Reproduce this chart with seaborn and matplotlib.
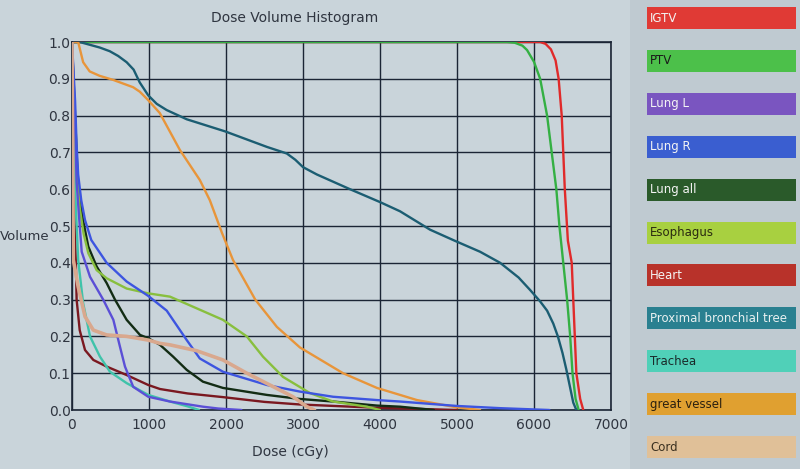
import pandas as pd
import seaborn as sns
import matplotlib.pyplot as plt
from matplotlib.patches import Rectangle

# DVH 데이터 (사진에서 읽은 값)
structures = ['IGTV', 'PTV', 'Lung L', 'Lung R', 'Lung all', 'Esophagus', 'Heart',
              'Proximal bronchial tree', 'Trachea', 'great vessel', 'Cord']

igtv_dose = [0, 6080, 6150, 6220, 6280, 6320, 6360, 6380, 6400, 6440, 6490, 6510, 6530, 6550, 6600, 6640]
igtv_vol = [1.0, 1.0, 0.995, 0.98, 0.95, 0.9, 0.8, 0.7, 0.6, 0.46, 0.4, 0.3, 0.2, 0.1, 0.03, 0.0]

ptv_dose = [0, 5650, 5750, 5850, 5910, 6000, 6080, 6170, 6230, 6290, 6330, 6380, 6430, 6470, 6500, 6540, 6580]
ptv_vol = [1.0, 1.0, 0.998, 0.99, 0.978, 0.946, 0.9, 0.8, 0.7, 0.6, 0.5, 0.4, 0.3, 0.2, 0.1, 0.03, 0.0]

lungl_dose = [0, 40, 60, 90, 126, 234, 405, 537, 623, 688, 795, 990, 1273, 1700, 1900, 2200]
lungl_vol = [1.0, 0.77, 0.62, 0.53, 0.43, 0.362, 0.30, 0.245, 0.172, 0.118, 0.063, 0.036, 0.023, 0.009, 0.004, 0.0]

lungr_dose = [0, 40, 60, 80, 120, 169, 250, 450, 710, 990, 1230, 1490, 1660, 1960, 2530, 2960, 3390, 3960,
              4260, 5000, 5560, 6200]
lungr_vol = [1.0, 0.84, 0.72, 0.64, 0.57, 0.516, 0.462, 0.40, 0.349, 0.31, 0.27, 0.19, 0.14, 0.104, 0.068,
             0.05, 0.036, 0.027, 0.023, 0.011, 0.005, 0.0]

lungall_dose = [0, 40, 80, 143, 212, 320, 450, 558, 710, 883, 990, 1143, 1313, 1490, 1700, 1960, 2530, 2960,
                3390, 3960, 4260, 4700]
lungall_vol = [1.0, 0.8, 0.6, 0.516, 0.444, 0.39, 0.345, 0.30, 0.245, 0.204, 0.195, 0.177, 0.145, 0.109,
               0.077, 0.06, 0.041, 0.03, 0.023, 0.012, 0.009, 0.0]

eso_dose = [0, 40, 100, 150, 212, 320, 450, 710, 990, 1273, 1360, 1960, 2270, 2480, 2740, 3090, 3390, 3830, 4000]
eso_vol = [1.0, 0.75, 0.55, 0.48, 0.426, 0.38, 0.358, 0.33, 0.317, 0.308, 0.30, 0.245, 0.2, 0.145, 0.09,
           0.046, 0.023, 0.009, 0.0]

heart_dose = [0, 20, 50, 60, 100, 169, 277, 450, 710, 990, 1143, 1500, 1960, 2500, 2960, 3960, 5000]
heart_vol = [1.0, 0.6, 0.4, 0.30, 0.217, 0.163, 0.136, 0.118, 0.095, 0.068, 0.057, 0.045, 0.035, 0.022,
             0.015, 0.006, 0.0]

pbt_dose = [0, 100, 360, 490, 600, 710, 800, 880, 990, 1100, 1230, 1490, 1990, 2530, 2790, 2900, 3000, 3180,
            3610, 4000, 4260, 4650, 4970, 5300, 5560, 5800, 5950, 6080, 6170, 6250, 6310, 6370, 6420, 6470,
            6510, 6550]
pbt_vol = [1.0, 1.0, 0.985, 0.975, 0.962, 0.945, 0.925, 0.89, 0.855, 0.832, 0.815, 0.79, 0.757, 0.715,
           0.697, 0.68, 0.66, 0.64, 0.6, 0.565, 0.54, 0.49, 0.46, 0.43, 0.40, 0.36, 0.326, 0.295, 0.27,
           0.235, 0.2, 0.155, 0.11, 0.06, 0.02, 0.0]

trachea_dose = [0, 40, 80, 145, 234, 363, 493, 710, 990, 1273, 1500, 1650]
trachea_vol = [1.0, 0.6, 0.408, 0.29, 0.2, 0.145, 0.104, 0.073, 0.041, 0.023, 0.01, 0.0]

gv_dose = [0, 80, 145, 230, 360, 535, 795, 880, 990, 1140, 1400, 1660, 1790, 1950, 2090, 2380, 2660, 2960,
           3520, 3960, 4260, 4480, 5000, 5300]
gv_vol = [1.0, 1.0, 0.945, 0.92, 0.908, 0.897, 0.877, 0.865, 0.842, 0.807, 0.707, 0.625, 0.57, 0.48, 0.408,
          0.30, 0.226, 0.17, 0.10, 0.06, 0.041, 0.027, 0.007, 0.0]

cord_dose = [0, 17, 80, 169, 277, 450, 710, 990, 1143, 1273, 1620, 1960, 2270, 2570, 2870, 3050, 3150]
cord_vol = [1.0, 0.408, 0.335, 0.254, 0.217, 0.204, 0.2, 0.19, 0.181, 0.177, 0.161, 0.136, 0.10, 0.068,
            0.036, 0.009, 0.0]

doses = [igtv_dose, ptv_dose, lungl_dose, lungr_dose, lungall_dose, eso_dose, heart_dose,
         pbt_dose, trachea_dose, gv_dose, cord_dose]
vols = [igtv_vol, ptv_vol, lungl_vol, lungr_vol, lungall_vol, eso_vol, heart_vol,
        pbt_vol, trachea_vol, gv_vol, cord_vol]

# 선 색 / 범례 박스 색
line_colors = ['#e02a2a', '#34b043', '#5b4fd6', '#3d55e0', '#122c14', '#88bf3e', '#7a1820',
               '#1b5d72', '#3fc3aa', '#e8953a', '#d9a88e']
box_colors = ['#e03a35', '#4cc04a', '#7a55c0', '#3a5ed0', '#2a5a2a', '#a8d040', '#b8322a',
              '#2a8090', '#50d0b8', '#e0a030', '#e0c098']
text_colors = ['#f4f4f4', '#1a1a1a', '#f4f4f4', '#f4f4f4', '#f4f4f4', '#2a2a10', '#f4f4f4',
               '#e8f0f0', '#1a2a2a', '#2a2010', '#3a3020']

frames = []
for name, d, v in zip(structures, doses, vols):
    frames.append(pd.DataFrame({'dose': d, 'volume': v, 'structure': name}))
df = pd.concat(frames, ignore_index=True)

sns.set_theme(style='white')
plt.rcParams['font.family'] = ['DejaVu Sans']

bg = '#c9d4da'
fig = plt.figure(figsize=(8, 4.69), dpi=100, facecolor=bg)
ax = fig.add_axes([72 / 800, 1 - 410 / 469, (611 - 72) / 800, 368 / 469])
ax.set_facecolor(bg)

# 그리기 순서: IGTV 먼저, PTV가 위에 오도록
draw_order = ['IGTV', 'PTV', 'Proximal bronchial tree', 'great vessel', 'Heart', 'Trachea',
              'Lung all', 'Esophagus', 'Lung L', 'Lung R', 'Cord']
palette = dict(zip(structures, line_colors))
for name in draw_order:
    lw = 2.6 if name == 'Cord' else 1.7
    sns.lineplot(data=df[df['structure'] == name], x='dose', y='volume', color=palette[name],
                 estimator=None, sort=False, lw=lw, ax=ax, legend=False, zorder=3)

ax.set_xlim(0, 7000)
ax.set_ylim(0, 1.0)
ax.set_xticks(range(0, 7001, 1000))
ax.set_yticks([i / 10 for i in range(11)])
ax.set_yticklabels([f'{i / 10:.1f}' for i in range(11)])
ax.grid(True, color='#1b2535', lw=1.0, zorder=1)
for s in ax.spines.values():
    s.set_color('#1b2535')
    s.set_linewidth(1.2)
ax.tick_params(axis='both', length=0, labelsize=10, colors='#2f3540')
ax.tick_params(axis='x', pad=6)
ax.tick_params(axis='y', pad=1)
ax.set_xlabel('')
ax.set_ylabel('')

fig.text(295 / 800, 1 - 18 / 469, 'Dose Volume Histogram', ha='center', va='center',
         fontsize=10, color='#2f3540')
fig.text(0, 1 - 236 / 469, 'Volume', ha='left', va='center', fontsize=9.5, color='#2f3540')
fig.text(290 / 800, 1 - 452 / 469, 'Dose (cGy)', ha='center', va='center', fontsize=10, color='#2f3540')

# 오른쪽 범례 패널
fig.patches.append(Rectangle((630 / 800, 0), 170 / 800, 1, transform=fig.transFigure,
                             facecolor='#bfcad1', edgecolor='none', zorder=0))
for i, name in enumerate(structures):
    top = 7 + i * 42.9
    fig.patches.append(Rectangle((647 / 800, 1 - (top + 22) / 469), 149 / 800, 22 / 469,
                                 transform=fig.transFigure, facecolor=box_colors[i],
                                 edgecolor='none', zorder=1))
    fig.text(650 / 800, 1 - (top + 11) / 469, name, ha='left', va='center',
             fontsize=8.5, color=text_colors[i])

fig.savefig('out.png', dpi=100, facecolor=bg)
